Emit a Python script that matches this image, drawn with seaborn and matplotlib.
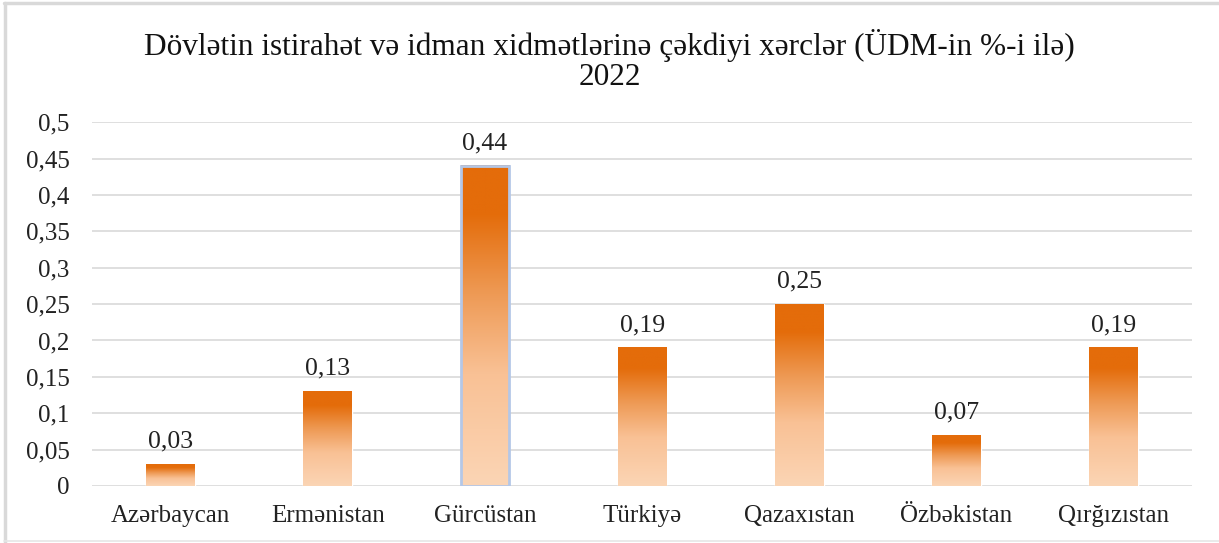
import numpy as np
import pandas as pd
import seaborn as sns
import matplotlib.pyplot as plt
from matplotlib.colors import LinearSegmentedColormap
from matplotlib.lines import Line2D

# Data ########################################################################

olkeler = ['Azərbaycan', 'Ermənistan', 'Gürcüstan', 'Türkiyə',
           'Qazaxıstan', 'Özbəkistan', 'Qırğızıstan']
xercler = [0.03, 0.13, 0.44, 0.19, 0.25, 0.07, 0.19]
yticks = [0, 0.05, 0.1, 0.15, 0.2, 0.25, 0.3, 0.35, 0.4, 0.45, 0.5]

df = pd.DataFrame({'olke': olkeler, 'xerc': xercler})

# Plot ########################################################################

sns.set_style('white')
plt.rcParams['font.family'] = ['Liberation Serif', 'DejaVu Serif']

fig = plt.figure(figsize=(12.19, 5.43), dpi=100)
ax = fig.add_axes([0.0755, 0.105, 0.9025, 0.67])

sns.barplot(data=df, x='olke', y='xerc', width=0.31, color='#E46C0A', ax=ax, zorder=3)

cmap = LinearSegmentedColormap.from_list(
    'narinci', [(0, '#FBD5B5'), (0.35, '#F9C195'), (0.6, '#EE9A55'),
                (0.85, '#E46C0A'), (1, '#E46C0A')])
grad = np.linspace(0, 1, 256).reshape(-1, 1)

for i, p in enumerate(ax.patches):
    x0, y0 = p.get_x(), p.get_y()
    w, h = p.get_width(), p.get_height()
    ax.imshow(grad, cmap=cmap, origin='lower', aspect='auto',
              extent=[x0, x0 + w, y0, y0 + h], zorder=3)
    p.set_facecolor('none')
    if olkeler[i] == 'Gürcüstan':
        p.set_edgecolor('#B4C7E7')
        p.set_linewidth(2)
        p.set_zorder(4)
    ax.text(x0 + w / 2, h + 0.016, f'{h:.2f}'.replace('.', ','),
            ha='center', va='bottom', fontsize=18.5, color='#222222')

ax.set_xlim(-0.5, len(olkeler) - 0.5)
ax.set_ylim(0, 0.5)
ax.set_yticks(yticks)
ax.set_yticklabels([f'{t:g}'.replace('.', ',') for t in yticks])
ax.yaxis.grid(True, color='#D9D9D9', linewidth=1.2, zorder=0)
ax.set_axisbelow(True)
for s in ax.spines.values():
    s.set_visible(False)
ax.tick_params(axis='both', length=0, labelsize=18, colors='#222222')
ax.tick_params(axis='y', pad=16)
ax.tick_params(axis='x', pad=14)
ax.set_xlabel('')
ax.set_ylabel('')

fig.text(0.5, 0.917, 'Dövlətin istirahət və idman xidmətlərinə çəkdiyi xərclər (ÜDM-in %-i ilə)',
         ha='center', va='center', fontsize=22.5, color='#111111')
fig.text(0.5, 0.858, '2022', ha='center', va='center', fontsize=22.5, color='#111111')

# outer frame (top, left, faint bottom)
fig.lines.append(Line2D([0.003, 1], [0.994, 0.994], transform=fig.transFigure,
                        color='#D9D9D9', linewidth=2.5))
fig.lines.append(Line2D([0.004, 0.004], [0, 0.994], transform=fig.transFigure,
                        color='#D9D9D9', linewidth=2.5))
fig.lines.append(Line2D([0.003, 1], [0.003, 0.003], transform=fig.transFigure,
                        color='#E6E6E6', linewidth=1.2))

fig.savefig('out.png', dpi=100)
